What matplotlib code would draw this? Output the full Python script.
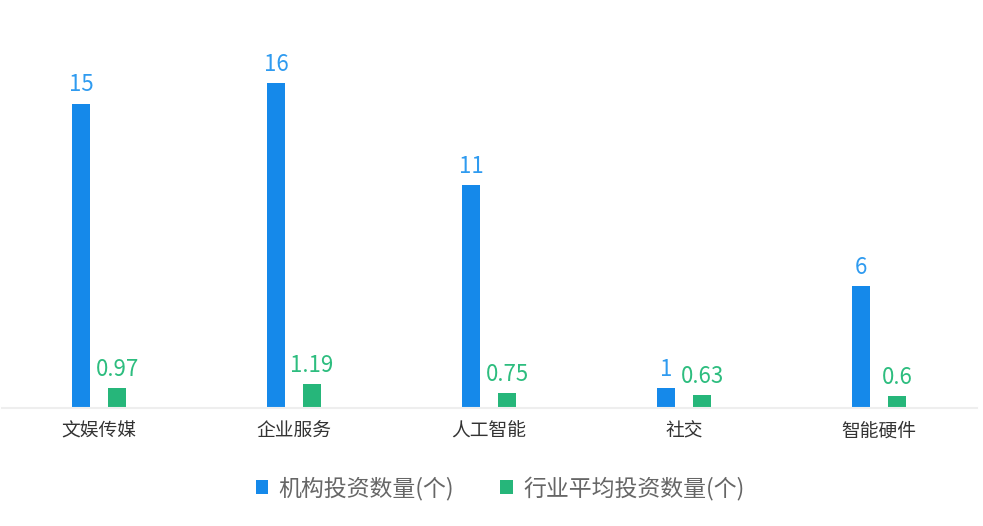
import matplotlib
matplotlib.use("Agg")
import matplotlib.pyplot as plt
import numpy as np

plt.rcParams['font.family'] = ['Noto Sans CJK SC', 'DejaVu Sans']

categories = ['文娱传媒', '企业服务', '人工智能', '社交', '智能硬件']
series1_name = '机构投资数量(个)'
series2_name = '行业平均投资数量(个)'
series1 = [15, 16, 11, 1, 6]
series2 = [0.97, 1.19, 0.75, 0.63, 0.6]
labels1 = ['15', '16', '11', '1', '6']
labels2 = ['0.97', '1.19', '0.75', '0.63', '0.6']

W, H = 983, 526
fig = plt.figure(figsize=(W / 100, H / 100), dpi=100)
ax = fig.add_axes([1.5 / W, (H - 408) / H, 975 / W, 406 / H])

x = np.arange(len(categories))
bw = 18 / 195
off = 18 / 195
c1, c2 = '#1589ea', '#26b67a'
b1 = ax.bar(x - off, series1, width=bw, color=c1, label=series1_name)
b2 = ax.bar(x + off, series2, width=bw, color=c2, label=series2_name)
for r, t in zip(b1, labels1):
    ax.text(r.get_x() + r.get_width() / 2, r.get_height() + 0.35, t, ha='center', va='bottom',
            color='#2f9bf0', fontsize=16)
for r, t in zip(b2, labels2):
    ax.text(r.get_x() + r.get_width() / 2, r.get_height() + 0.35, t, ha='center', va='bottom',
            color='#2dbd7f', fontsize=16)

ax.set_xlim(-0.5, len(categories) - 0.5)
ax.set_ylim(0, 20)
ax.set_xticks(x)
ax.set_xticklabels(categories, fontsize=13.5, color='#333333')
ax.tick_params(axis='x', length=0, pad=9)
ax.set_yticks([])
for s in ['top', 'right', 'left']:
    ax.spines[s].set_visible(False)
ax.spines['bottom'].set_color('#eeeeee')
ax.spines['bottom'].set_linewidth(1.5)

leg = fig.legend(handles=[b1, b2], loc='center', bbox_to_anchor=(500 / W, 1 - 488 / H),
                 ncol=2, frameon=False, fontsize=16.5, handlelength=0.55, handleheight=0.55,
                 handletextpad=0.45, columnspacing=2.0, labelcolor='#666666')
fig.savefig('out.png', dpi=100)
